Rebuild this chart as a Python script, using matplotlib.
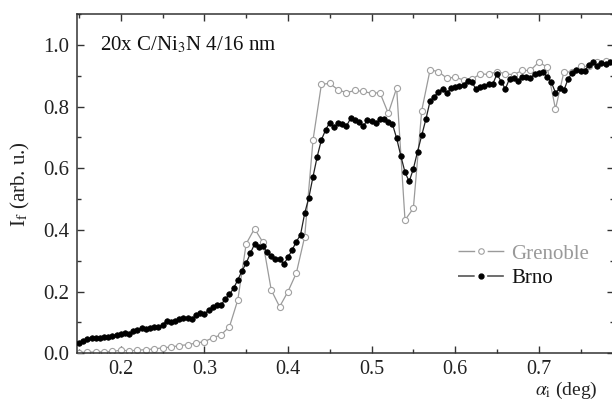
import numpy as np
import matplotlib
matplotlib.use("Agg")
import matplotlib.pyplot as plt
from matplotlib.ticker import MultipleLocator
from matplotlib.lines import Line2D
from matplotlib import font_manager

avail = {f.name for f in font_manager.fontManager.ttflist}
serif = [f for f in ['Liberation Serif', 'Times New Roman', 'Nimbus Roman', 'STIXGeneral'] if f in avail]
plt.rcParams['font.family'] = serif + ['DejaVu Serif']
plt.rcParams['mathtext.fontset'] = 'stix'
plt.rcParams['lines.scale_dashes'] = False

# ---- data ----
grenoble_x = [0.15, 0.16, 0.17, 0.18, 0.19, 0.20, 0.21, 0.22, 0.23, 0.24,
              0.25, 0.26, 0.27, 0.28, 0.29, 0.30, 0.31, 0.32, 0.33, 0.34,
              0.35, 0.36, 0.37, 0.38, 0.39, 0.40, 0.41, 0.42, 0.43, 0.44,
              0.45, 0.46, 0.47, 0.48, 0.49, 0.50, 0.51, 0.52, 0.53, 0.54,
              0.55, 0.56, 0.57, 0.58, 0.59, 0.60, 0.61, 0.62, 0.63, 0.64,
              0.65, 0.66, 0.67, 0.68, 0.69, 0.70, 0.71, 0.72, 0.73, 0.74,
              0.75, 0.76, 0.77, 0.78, 0.79]
grenoble_y = [0.002, 0.004, 0.004, 0.005, 0.006, 0.010, 0.008, 0.010, 0.012, 0.014,
              0.018, 0.020, 0.025, 0.028, 0.033, 0.038, 0.050, 0.060, 0.086, 0.173,
              0.355, 0.404, 0.360, 0.205, 0.151, 0.200, 0.260, 0.378, 0.692, 0.872,
              0.875, 0.854, 0.845, 0.852, 0.849, 0.843, 0.845, 0.778, 0.860, 0.432,
              0.470, 0.787, 0.919, 0.913, 0.892, 0.895, 0.886, 0.888, 0.906, 0.904,
              0.913, 0.906, 0.903, 0.917, 0.917, 0.944, 0.928, 0.792, 0.911, 0.913,
              0.930, 0.930, 0.944, 0.949, 0.945]

brno_x = [round(0.15 + 0.005 * i, 3) for i in range(128)]
brno_y = [0.034, 0.041, 0.045, 0.048, 0.050, 0.048, 0.054, 0.054, 0.056, 0.058,
          0.062, 0.065, 0.062, 0.072, 0.075, 0.081, 0.078, 0.081, 0.084, 0.086,
          0.091, 0.106, 0.100, 0.106, 0.110, 0.115, 0.113, 0.111, 0.124, 0.132,
          0.127, 0.140, 0.149, 0.157, 0.157, 0.176, 0.191, 0.211, 0.238, 0.267,
          0.292, 0.324, 0.354, 0.346, 0.348, 0.328, 0.317, 0.305, 0.305, 0.289,
          0.311, 0.335, 0.362, 0.384, 0.454, 0.505, 0.573, 0.638, 0.692, 0.724,
          0.748, 0.733, 0.746, 0.743, 0.737, 0.762, 0.755, 0.750, 0.737, 0.755,
          0.754, 0.746, 0.758, 0.760, 0.751, 0.743, 0.697, 0.640, 0.587, 0.557,
          0.598, 0.654, 0.707, 0.759, 0.818, 0.832, 0.848, 0.857, 0.843, 0.860,
          0.863, 0.865, 0.870, 0.884, 0.879, 0.856, 0.862, 0.867, 0.872, 0.873,
          0.905, 0.881, 0.857, 0.890, 0.892, 0.884, 0.895, 0.897, 0.892, 0.906,
          0.908, 0.911, 0.897, 0.879, 0.845, 0.859, 0.852, 0.889, 0.910, 0.919,
          0.916, 0.916, 0.935, 0.943, 0.933, 0.941, 0.938, 0.943]
brno_x = brno_x[:len(brno_y)]

x_ticks = [0.2, 0.3, 0.4, 0.5, 0.6, 0.7]
y_ticks = [0.0, 0.2, 0.4, 0.6, 0.8, 1.0]

# ---- figure ----
W, H = 612, 403
fig = plt.figure(figsize=(W / 100, H / 100), dpi=100)
ax_l, ax_r, ax_t, ax_b = 77.3, 614.0, 14.0, 353.3
ax = fig.add_axes([ax_l / W, 1 - ax_b / H, (ax_r - ax_l) / W, (ax_b - ax_t) / H])

g_col, g_mec = '#9a9a9a', '#a0a0a0'
ax.plot(grenoble_x, grenoble_y, '-o', color=g_col, lw=0.9, ms=4.4,
        mfc='white', mec=g_mec, mew=0.8, zorder=2)
ax.plot(brno_x, brno_y, '-o', color='#222222', lw=0.9, ms=4.0,
        mfc='black', mec='black', mew=0.5, zorder=3)

ax.set_xlim(0.148, 0.79)
ax.set_ylim(0.0, 1.1)
ax.set_xticks(x_ticks)
ax.set_xticklabels([f"{v:.1f}" for v in x_ticks])
ax.set_yticks(y_ticks)
ax.set_yticklabels([f"{v:.1f}" for v in y_ticks])
ax.xaxis.set_minor_locator(MultipleLocator(0.05))
ax.yaxis.set_minor_locator(MultipleLocator(0.1))
ax.tick_params(which='both', direction='in', top=True, right=True,
               labelsize=15, colors='#333333', labelcolor='#222222')
ax.tick_params(axis='x', labelsize=14.5)
ax.tick_params(which='major', length=5, width=1)
ax.tick_params(which='minor', length=3, width=1)
ax.tick_params(axis='x', pad=5)
ax.tick_params(axis='y', pad=6)
for s in ax.spines.values():
    s.set_color('#333333')
    s.set_linewidth(1.1)

ax.set_ylabel(r'I$_{\mathrm{f}}$ (arb. u.)', fontsize=15, color='#222222', labelpad=8)
ax.text((598 - ax_l) / (ax_r - ax_l), -(390 - ax_b) / (ax_b - ax_t),
        r'$\alpha_{\mathrm{i}}$ (deg)', transform=ax.transAxes, ha='right',
        va='center', fontsize=14, color='#222222')
ax.text((100 - ax_l) / (ax_r - ax_l), (ax_b - 45) / (ax_b - ax_t),
        r'20x C/Ni$_{\mathrm{3}}$N 4/16 nm', transform=ax.transAxes, ha='left',
        va='center', fontsize=15, color='#111111')

handles = [
    Line2D([], [], color=g_col, lw=1.0, dashes=(12, 9), marker='o', ms=4,
           mfc='white', mec=g_mec, mew=0.8),
    Line2D([], [], color='#555555', lw=1.2, dashes=(12, 9), marker='o', ms=3.5,
           mfc='black', mec='black'),
]
leg = ax.legend(handles, ['Grenoble', 'Brno'], loc='upper left',
                bbox_to_anchor=((458 - ax_l) / (ax_r - ax_l), (ax_b - 244) / (ax_b - ax_t)),
                frameon=False, fontsize=15, handlelength=2.2, handletextpad=0.35,
                borderpad=0, borderaxespad=0, labelspacing=0.25)
for txt, c in zip(leg.get_texts(), ['#999999', '#111111']):
    txt.set_color(c)

fig.savefig('out.png', dpi=100)
